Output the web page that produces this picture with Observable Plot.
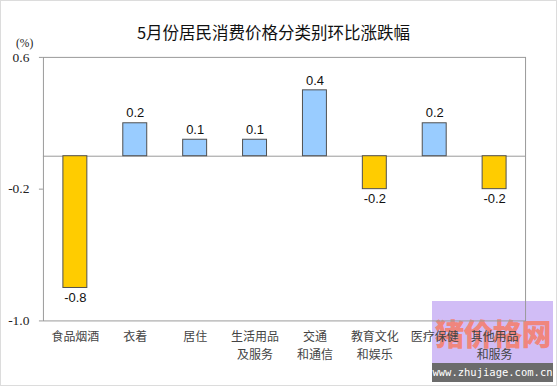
<!DOCTYPE html>
<html>
<head>
<meta charset="utf-8">
<script src="https://cdn.jsdelivr.net/npm/d3@7"></script>
<script src="https://cdn.jsdelivr.net/npm/@observablehq/plot@0.6"></script>
<style>
  html, body { margin: 0; padding: 0; background: #fff; }
  #wrap { position: relative; width: 557px; height: 386px; box-sizing: border-box; border: 1px solid #dcdcdc; overflow: hidden; }
  #chart { position: absolute; left: -1px; top: -1px; }
  #chart svg { background: transparent; }
  #title { position: absolute; left: 0; width: 545px; top: 20px; text-align: center; font-family: "Noto Sans CJK SC", sans-serif; font-size: 16.5px; line-height: 22px; color: #111; }
  #unit { position: absolute; left: 15px; top: 36px; font-family: "Liberation Serif", serif; font-size: 11.5px; color: #222; }
  #wm { position: absolute; left: 431px; top: 300px; width: 121px; height: 62px; background: rgba(178, 145, 240, 0.6); text-align: center; font-family: "Noto Sans CJK SC", sans-serif; font-weight: 900; font-size: 30px; line-height: 62px; color: rgba(255, 110, 70, 0.7); letter-spacing: -1px; }
  #wm2 { position: absolute; left: 431px; top: 362px; width: 121px; height: 19px; background: #6b6b6b; color: #fff; font-family: "DejaVu Sans Mono", monospace; font-size: 10.5px; line-height: 19px; text-align: center; }
</style>
</head>
<body>
<div id="wrap">
  <div id="wm">猪价格网</div>
  <div id="wm2">www.zhujiage.com.cn</div>
  <div id="chart"></div>
  <div id="title">5月份居民消费价格分类别环比涨跌幅</div>
  <div id="unit">(%)</div>
</div>
<script>
const categories = ["食品烟酒", "衣着", "居住", "生活用品\n及服务", "交通\n和通信", "教育文化\n和娱乐", "医疗保健", "其他用品\n和服务"];
const values = [-0.8, 0.2, 0.1, 0.1, 0.4, -0.2, 0.2, -0.2];
const yTicks = [0.6, -0.2, -1.0];

const data = categories.map((c, i) => ({c, v: values[i]}));
const pos = data.filter(d => d.v >= 0);
const neg = data.filter(d => d.v < 0);

const chart = Plot.plot({
  width: 557,
  height: 386,
  marginLeft: 43,
  marginRight: 31,
  marginTop: 57,
  marginBottom: 65,
  style: {background: "transparent"},
  x: {domain: categories, paddingInner: 0.6, paddingOuter: 0.3, axis: null},
  y: {domain: [-1.0, 0.6], axis: null},
  marks: [
    Plot.frame({stroke: "#9a9a9a"}),
    Plot.ruleY([0], {stroke: "#9a9a9a"}),
    Plot.barY(data, {x: "c", y: "v", fill: d => d.v < 0 ? "#FFCC00" : "#99CCFF", stroke: "#505050", strokeWidth: 1}),
    Plot.text(pos, {x: "c", y: "v", text: d => d.v.toFixed(1), dy: -10, fontSize: 13, fill: "#111", fontFamily: "Liberation Sans, Arial, sans-serif"}),
    Plot.text(neg, {x: "c", y: "v", text: d => d.v.toFixed(1), dy: 10, fontSize: 13, fill: "#111", fontFamily: "Liberation Sans, Arial, sans-serif"}),
    Plot.axisY(yTicks, {label: null, tickFormat: d => d.toFixed(1), tickSize: 4, tickPadding: 10, stroke: "#9a9a9a", fill: "#222", fontSize: 13.5, fontFamily: "Liberation Serif, serif"}),
    Plot.axisX({label: null, tickSize: 0, tickPadding: 7, fontSize: 12, lineHeight: 1.5, fill: "#444", fontFamily: "Noto Sans CJK SC, sans-serif"})
  ]
});
document.getElementById("chart").appendChild(chart);
</script>
</body>
</html>
